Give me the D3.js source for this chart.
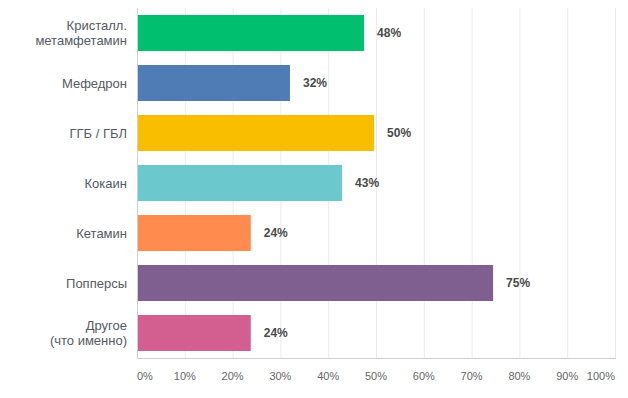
<!DOCTYPE html>
<html>
<head>
<meta charset="utf-8">
<script src="https://cdn.jsdelivr.net/npm/d3@7"></script>
<style>
  body { margin: 0; background: #fff; }
  svg text { font-family: "Liberation Sans", Arial, sans-serif; }
</style>
</head>
<body>
<svg id="chart" width="628" height="398"></svg>
<script>
// chart data
var categories = [
  ['Кристалл.', 'метамфетамин'],
  ['Мефедрон'],
  ['ГГБ / ГБЛ'],
  ['Кокаин'],
  ['Кетамин'],
  ['Попперсы'],
  ['Другое', '(что именно)']
];
var values = [47.5, 32.0, 49.6, 42.9, 23.8, 74.5, 23.8];
var colors = ['#00bf6f', '#507cb6', '#f9be00', '#6bc8cd', '#ff8b4f', '#7f5f90', '#d25f90'];
var ticks = [0, 10, 20, 30, 40, 50, 60, 70, 80, 90, 100];

var margin = {top: 8, left: 137, right: 13, bottom: 40};
var width = 628 - margin.left - margin.right;
var height = 398 - margin.top - margin.bottom;

var svg = d3.select('#chart');
var g = svg.append('g').attr('transform', 'translate(' + margin.left + ',' + margin.top + ')');

var x = d3.scaleLinear().domain([0, 100]).range([0, width]);
var y = d3.scaleBand().domain(d3.range(categories.length)).range([0, height]).paddingInner(0.28).paddingOuter(0.14);

// grid
g.selectAll('.grid').data(ticks).enter().append('line')
  .attr('x1', function(d) { return x(d) + 0.5; })
  .attr('x2', function(d) { return x(d) + 0.5; })
  .attr('y1', 0).attr('y2', height)
  .attr('stroke', '#ebebeb');

g.append('line').attr('x1', 0.5).attr('x2', 0.5).attr('y1', 0).attr('y2', height).attr('stroke', '#cfcfcf');
g.append('line').attr('x1', 0).attr('x2', width + 1).attr('y1', height + 0.5).attr('y2', height + 0.5).attr('stroke', '#cfcfcf');

// bars
g.selectAll('.bar').data(values).enter().append('rect')
  .attr('x', 1)
  .attr('y', function(d, i) { return y(i); })
  .attr('width', function(d) { return x(d) - 1; })
  .attr('height', y.bandwidth())
  .attr('fill', function(d, i) { return colors[i]; });

// value labels
g.selectAll('.val').data(values).enter().append('text')
  .attr('x', function(d) { return x(d) + 13; })
  .attr('y', function(d, i) { return y(i) + y.bandwidth() / 2; })
  .attr('dy', '0.35em')
  .attr('font-size', 12)
  .attr('font-weight', 'bold')
  .attr('fill', '#4a4a4a')
  .text(function(d) { return Math.round(d) + '%'; });

// category labels
var cat = g.selectAll('.cat').data(categories).enter().append('text')
  .attr('y', function(d, i) { return y(i) + y.bandwidth() / 2; })
  .attr('text-anchor', 'end')
  .attr('font-size', 13)
  .attr('fill', '#555b63');
cat.each(function(d) {
  var t = d3.select(this);
  var off = -(d.length - 1) * 7.5 + 4.5;
  d.forEach(function(line, k) {
    t.append('tspan').attr('x', -10).attr('dy', k === 0 ? off + 'px' : '15px').text(line);
  });
});

// x tick labels
g.selectAll('.tick').data(ticks).enter().append('text')
  .attr('x', function(d) { return x(d); })
  .attr('y', height + 22)
  .attr('text-anchor', function(d) { return d === 0 ? 'start' : (d === 100 ? 'end' : 'middle'); })
  .attr('font-size', 11)
  .attr('fill', '#666')
  .text(function(d) { return d + '%'; });
</script>
</body>
</html>
